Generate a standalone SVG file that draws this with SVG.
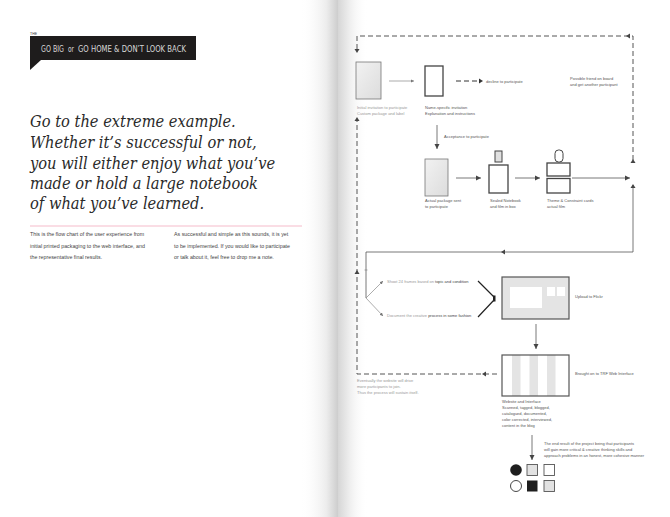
<svg xmlns="http://www.w3.org/2000/svg" width="670" height="517" viewBox="0 0 670 517">
<defs>
<linearGradient id="spineL" x1="0" y1="0" x2="1" y2="0">
<stop offset="0" stop-color="#ffffff" stop-opacity="0"/>
<stop offset="0.7" stop-color="#ececec"/>
<stop offset="1" stop-color="#cdcdcd"/>
</linearGradient>
<linearGradient id="spineR" x1="0" y1="0" x2="1" y2="0">
<stop offset="0" stop-color="#d6d6d6"/>
<stop offset="0.4" stop-color="#efefef"/>
<stop offset="1" stop-color="#ffffff" stop-opacity="0"/>
</linearGradient>
<linearGradient id="boxfill" x1="0" y1="0" x2="1" y2="1">
<stop offset="0" stop-color="#f2f2f2"/>
<stop offset="1" stop-color="#dcdcdc"/>
</linearGradient>
<marker id="ah" viewBox="0 0 6 6" refX="5" refY="3" markerWidth="6" markerHeight="6" markerUnits="userSpaceOnUse" orient="auto">
<path d="M0,0.5 L5,3 L0,5.5 Z" fill="#444"/>
</marker>
<marker id="ahs" viewBox="0 0 6 6" refX="5" refY="3" markerWidth="4" markerHeight="4" markerUnits="userSpaceOnUse" orient="auto">
<path d="M0,0.5 L5,3 L0,5.5 Z" fill="#777"/>
</marker>
</defs>
<style>
.hd{font-family:"DejaVu Serif Condensed","DejaVu Serif","Liberation Serif",serif;font-style:italic;font-size:16.3px;fill:#2a2a2a}
.hb{font-family:"DejaVu Sans Condensed","Liberation Sans",sans-serif;font-size:8.5px;fill:#d8d8d8}
.body{font-family:"Liberation Sans",Arial,sans-serif;font-size:5.3px;fill:#444}
.t{font-family:"Liberation Sans",Arial,sans-serif;font-size:4px;fill:#555}
.tl{font-family:"Liberation Sans",Arial,sans-serif;font-size:4px;fill:#999}
.bx{stroke:#666;stroke-width:1;fill:#fff}
.bxg{stroke:#777;stroke-width:0.8;fill:url(#boxfill)}
.dk{stroke:#444;stroke-width:1.3;fill:#fff}
.ln{stroke:#555;stroke-width:0.8;fill:none}
.lnl{stroke:#888;stroke-width:0.7;fill:none}
.ds{stroke:#555;stroke-width:1;fill:none;stroke-dasharray:5 3}
</style>
<rect x="0" y="0" width="670" height="517" fill="#ffffff"/>
<rect x="300" y="0" width="38" height="517" fill="url(#spineL)"/>
<rect x="338" y="0" width="30" height="517" fill="url(#spineR)"/>

<g id="header">
<text x="30" y="34.5" font-family="Liberation Sans,Arial,sans-serif" font-size="3.5" fill="#333">THE</text>
<rect x="30" y="36" width="166" height="24" fill="#1e1c1c"/>
<path d="M30,60 L41,60 L30,70 Z" fill="#1e1c1c"/>
<text class="hb" x="41" y="52" textLength="23" lengthAdjust="spacingAndGlyphs">GO BIG</text>
<text class="hb" x="68" y="52" font-size="6" textLength="6" lengthAdjust="spacingAndGlyphs">or</text>
<text class="hb" x="78" y="52" textLength="108" lengthAdjust="spacingAndGlyphs">GO HOME &amp; DON’T LOOK BACK</text>
</g>

<g id="headline">
<text class="hd" x="30" y="127">Go to the extreme example.</text>
<text class="hd" x="30" y="148">Whether it’s successful or not,</text>
<text class="hd" x="30" y="169">you will either enjoy what you’ve</text>
<text class="hd" x="30" y="189">made or hold a large notebook</text>
<text class="hd" x="30" y="209">of what you’ve learned.</text>
</g>

<line x1="30" y1="226" x2="302" y2="226" stroke="#f3a9bd" stroke-width="0.8"/>

<g id="body-text">
<text class="body" x="30" y="236">This is the flow chart of the user experience from</text>
<text class="body" x="30" y="247.5">initial printed packaging to the web interface, and</text>
<text class="body" x="30" y="259">the representative final results.</text>
<text class="body" x="174" y="236">As successful and simple as this sounds, it is yet</text>
<text class="body" x="174" y="247.5">to be implemented. If you would like to participate</text>
<text class="body" x="174" y="259">or talk about it, feel free to drop me a note.</text>
</g>

<g id="connectors">
<path class="ds" d="M633,160 L633,36 L357,36 L357,52" />
<path d="M630,33.5 L626,36 L630,38.5 Z" fill="#444"/>
<path d="M354.5,49 L357,53 L359.5,49 Z" fill="#444"/>
<path d="M630.5,163 L633,159 L635.5,163 Z" fill="#444"/>
<line class="lnl" x1="389" y1="81" x2="414" y2="81" marker-end="url(#ahs)"/>
<line x1="456" y1="81" x2="479" y2="81" stroke="#333" stroke-width="1" stroke-dasharray="5 3"/>
<path d="M479,78.5 L483,81 L479,83.5 Z" fill="#333"/>
<line class="ln" x1="437" y1="125" x2="437" y2="149" marker-end="url(#ah)"/>
<line class="ln" x1="456" y1="178" x2="481" y2="178" marker-end="url(#ah)"/>
<line class="ln" x1="515" y1="178" x2="540" y2="178" marker-end="url(#ah)"/>
<line class="ln" x1="572" y1="178" x2="630" y2="178" marker-end="url(#ah)"/>
<path class="ln" d="M633,185 L633,252 L366,252 L366,298" />
<path d="M630.5,188 L633,184 L635.5,188 Z" fill="#444"/>
<path d="M505,249.5 L501,252 L505,254.5 Z" fill="#444"/>
<line x1="364.5" y1="270" x2="367.5" y2="270" stroke="#777" stroke-width="0.6"/>
<line class="lnl" x1="366" y1="298" x2="383" y2="281" marker-end="url(#ahs)"/>
<line class="lnl" x1="366" y1="298" x2="383" y2="316" marker-end="url(#ahs)"/>
<path d="M478,281 L494,297 M478,317 L494,300" stroke="#222" stroke-width="1.2" fill="none"/>
<rect x="493" y="295.5" width="2.5" height="6" fill="#222"/>
<line class="ln" x1="536" y1="324" x2="536" y2="349" marker-end="url(#ah)"/>
<path class="ds" d="M497,374 L357,374 L357,121"/>
<path d="M486,371.5 L482,374 L486,376.5 Z" fill="#444"/>
<path d="M354.5,121 L357,117 L359.5,121 Z" fill="#444"/>
<path d="M354.5,274 L357,270 L359.5,274 Z" fill="#444"/>
<line class="ln" x1="532" y1="435" x2="532" y2="460" marker-end="url(#ah)"/>
</g>

<g id="n-initial">
<rect class="bxg" x="356" y="62" width="25" height="37"/>
<text class="tl" x="357" y="109">Initial invitation to participate</text>
<text class="tl" x="357" y="114.5">Custom package and label</text>
</g>

<g id="n-name">
<rect class="dk" x="425" y="66" width="18" height="30"/>
<text class="t" x="425" y="109">Name-specific invitation</text>
<text class="t" x="425" y="114.5">Explanation and instructions</text>
</g>

<g id="n-decline">
<text class="t" x="486" y="82.5">decline to participate</text>
</g>

<g id="n-friend">
<text class="t" x="570" y="80">Possible friend on board</text>
<text class="t" x="570" y="86">and get another participant</text>
</g>

<g id="n-accept">
<text class="t" x="444" y="138">Acceptance to participate</text>
</g>

<g id="n-package">
<rect class="bxg" x="425" y="159" width="23" height="37" stroke="#555"/>
<text class="t" x="425" y="202">Actual package sent</text>
<text class="t" x="425" y="208">to participate</text>
</g>

<g id="n-notebook">
<rect x="495" y="151" width="7" height="11" fill="#e0e0e0" stroke="#444" stroke-width="1"/>
<rect class="dk" x="489" y="165" width="19" height="28"/>
<text class="t" x="490" y="202">Sealed Notebook</text>
<text class="t" x="490" y="208">and film in box</text>
</g>

<g id="n-cards">
<rect x="555" y="150" width="8" height="12" rx="3.5" fill="#fff" stroke="#444" stroke-width="1"/>
<rect class="dk" x="547" y="163" width="23" height="13"/>
<rect class="dk" x="547" y="178.5" width="23" height="14.5"/>
<text class="t" x="547" y="202">Theme &amp; Constraint cards</text>
<text class="t" x="547" y="208">actual film</text>
</g>

<g id="n-shoot">
<text class="tl" x="387" y="282.5">Shoot 24 frames based on <tspan fill="#444">topic and condition</tspan></text>
</g>

<g id="n-document">
<text class="tl" x="387" y="316.5">Document the creative <tspan fill="#444">process in some fashion</tspan></text>
</g>

<g id="n-flickr">
<rect x="502" y="277" width="67" height="42" fill="#e4e4e4" stroke="#555" stroke-width="1.2"/>
<rect x="510" y="287" width="32" height="21" fill="#fff"/>
<rect x="547" y="287" width="8" height="9" fill="#fff"/>
<rect x="557" y="287" width="8" height="9" fill="#fff"/>
<text class="t" x="575" y="298">Upload to Flickr</text>
</g>

<g id="n-web">
<rect x="502" y="355" width="67" height="41" fill="#fff"/>
<rect x="512" y="355" width="8.5" height="41" fill="#e4e4e4"/>
<rect x="529.5" y="355" width="8.5" height="41" fill="#e4e4e4"/>
<rect x="547" y="355" width="8.5" height="41" fill="#e4e4e4"/>
<rect x="502" y="355" width="67" height="41" fill="none" stroke="#555" stroke-width="1.2"/>
<text class="t" x="575" y="375">Brought on to TRF Web Interface</text>
<text class="t" x="502" y="403">Website and Interface</text>
<text class="t" x="502" y="409">Scanned, tagged, blogged,</text>
<text class="t" x="502" y="415">catalogued, documented,</text>
<text class="t" x="502" y="421">color corrected, interviewed,</text>
<text class="t" x="502" y="427">content in the blog</text>
</g>

<g id="n-eventually">
<text class="tl" x="357" y="382">Eventually the website will drive</text>
<text class="tl" x="357" y="388">more participants to join.</text>
<text class="tl" x="357" y="394">Thus the process will sustain itself.</text>
</g>

<g id="n-result">
<text class="t" x="544" y="445">The end result of the project being that participants</text>
<text class="t" x="544" y="451">will gain more critical &amp; creative thinking skills and</text>
<text class="t" x="544" y="457">approach problems in an honest, more cohesive manner</text>
<circle cx="516" cy="470" r="5.8" fill="#1e1e1e"/>
<rect x="527" y="464.5" width="10.5" height="11" fill="#e2e2e2" stroke="#555" stroke-width="0.9"/>
<rect x="544" y="464.5" width="10.5" height="11" fill="#fff" stroke="#555" stroke-width="0.9"/>
<circle cx="516" cy="486" r="5.5" fill="#fff" stroke="#333" stroke-width="0.9"/>
<rect x="527" y="480.5" width="10.5" height="11" fill="#1e1e1e"/>
<rect x="544" y="480.5" width="10.5" height="11" fill="#e2e2e2" stroke="#555" stroke-width="0.9"/>
</g>
</svg>
